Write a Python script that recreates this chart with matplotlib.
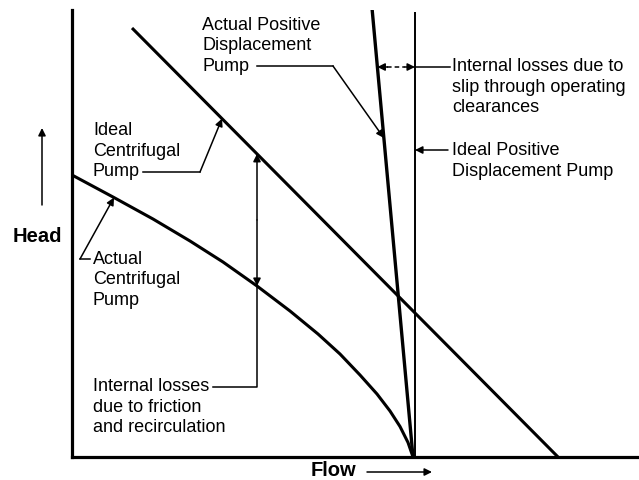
import numpy as np
import matplotlib
matplotlib.use("Agg")
import matplotlib.pyplot as plt

plt.rcParams['font.family'] = ['Liberation Sans', 'DejaVu Sans']

# ---- data (flow, head) in schematic units ----
ideal_cf_flow = [60, 486]
ideal_cf_head = [429, 0]

actual_cf_flow = [0, 41, 81, 118, 151, 185, 218, 246, 268, 288, 305, 318, 328, 336, 341]
actual_cf_head = [282, 260, 238, 216, 195, 171, 146, 123, 103, 82, 63, 46, 30.5, 14.5, 0]

actual_pd_flow = [300, 341]
actual_pd_head = [449, 0]

ideal_pd_flow = [343, 343]
ideal_pd_head = [445, 0]

labels = {
    'apd': "Actual Positive\nDisplacement\nPump",
    'slip': "Internal losses due to\nslip through operating\nclearances",
    'ipd': "Ideal Positive\nDisplacement Pump",
    'icf': "Ideal\nCentrifugal\nPump",
    'acf': "Actual\nCentrifugal\nPump",
    'fric': "Internal losses\ndue to friction\nand recirculation",
}

W, H = 639, 480
fig = plt.figure(figsize=(W / 100, H / 100), dpi=100)
ox, oy = 72, 457
ax = fig.add_axes([ox / W, (H - oy) / H, (W - ox) / W, (oy - 10) / H])
ax.set_xlim(0, W - ox)
ax.set_ylim(0, oy - 10)
for s in ['top', 'right']:
    ax.spines[s].set_visible(False)
for s in ['left', 'bottom']:
    ax.spines[s].set_linewidth(2.3)
ax.set_xticks([])
ax.set_yticks([])

ax.plot(ideal_cf_flow, ideal_cf_head, color='black', lw=2.2, solid_capstyle='butt')
ax.plot(actual_cf_flow, actual_cf_head, color='black', lw=2.2, solid_joinstyle='round')
ax.plot(actual_pd_flow, actual_pd_head, color='black', lw=2.4, solid_capstyle='butt')
ax.plot(ideal_pd_flow, ideal_pd_head, color='black', lw=1.4, solid_capstyle='butt')


def P(x, y):
    """convert reference pixel position to data coords"""
    return (x - ox, oy - y)


def line_x_at(fl, hd, h):
    return np.interp(h, hd[::-1], fl[::-1])


def line_h_at(fl, hd, f):
    return np.interp(f, fl, hd)


fs = 13
ls_ = 1.27
lkw = dict(color='black', lw=1.1, clip_on=False)
akw = dict(arrowstyle='-|>', mutation_scale=11, lw=1.1, color='black',
           shrinkA=0, shrinkB=0)


def arrow(start, end, style='-|>', ls='-'):
    kw = dict(akw)
    kw['arrowstyle'] = style
    kw['linestyle'] = ls
    ax.annotate('', xy=end, xytext=start, xycoords='data',
                textcoords='data', arrowprops=kw, annotation_clip=False)


# Actual positive displacement pump label
ax.text(*P(202, 46), labels['apd'], fontsize=fs, va='center', ha='left', linespacing=ls_)
h_apd = oy - 138
tip = (line_x_at(actual_pd_flow, actual_pd_head, h_apd), h_apd)
ax.plot([257 - ox, 333 - ox], [oy - 66, oy - 66], **lkw)
arrow(P(333, 66), tip)

# slip losses
h_slip = oy - 67
x_apd = line_x_at(actual_pd_flow, actual_pd_head, h_slip)
x_ipd = ideal_pd_flow[0]
arrow((x_apd + 10, h_slip), (x_apd, h_slip))
arrow((x_ipd - 10, h_slip), (x_ipd, h_slip))
ax.plot([x_apd + 10, x_ipd - 10], [h_slip, h_slip], color='black', lw=1.1,
        ls=(0, (3, 2)), clip_on=False)
ax.plot([x_ipd, 450 - ox], [h_slip, h_slip], **lkw)
ax.text(*P(452, 87), labels['slip'], fontsize=fs, va='center', ha='left', linespacing=ls_)

# ideal positive displacement pump
arrow(P(448, 150), (x_ipd, oy - 150))
ax.text(*P(452, 161), labels['ipd'], fontsize=fs, va='center', ha='left', linespacing=ls_)

# ideal centrifugal pump
f_icf = 222 - ox
ax.text(*P(93, 151), labels['icf'], fontsize=fs, va='center', ha='left', linespacing=ls_)
ax.plot([143 - ox, 200 - ox], [oy - 172, oy - 172], **lkw)
arrow(P(200, 172), (f_icf, line_h_at(ideal_cf_flow, ideal_cf_head, f_icf)))

# actual centrifugal pump
f_acf = 114 - ox
ax.text(*P(93, 280), labels['acf'], fontsize=fs, va='center', ha='left', linespacing=ls_)
ax.plot([90 - ox, 80 - ox], [oy - 259, oy - 259], **lkw)
arrow(P(80, 259), (f_acf, line_h_at(actual_cf_flow, actual_cf_head, f_acf)))

# friction losses
f_fr = 257 - ox
h_top = line_h_at(ideal_cf_flow, ideal_cf_head, f_fr)
h_bot = line_h_at(actual_cf_flow, actual_cf_head, f_fr)
ax.text(*P(93, 407), labels['fric'], fontsize=fs, va='center', ha='left', linespacing=ls_)
ax.plot([213 - ox, f_fr, f_fr], [oy - 387, oy - 387, h_bot], **lkw)
arrow((f_fr, (h_top + h_bot) / 2), (f_fr, h_top))
arrow((f_fr, (h_top + h_bot) / 2), (f_fr, h_bot))

# axis labels
ax.text(*P(37, 237), "Head", fontsize=14.5, fontweight='bold', ha='center', va='center')
arrow(P(42, 205), P(42, 128))
ax.text(*P(333, 471), "Flow", fontsize=14.5, fontweight='bold', ha='center', va='center')
arrow(P(367, 472), P(432, 472))

fig.savefig('out.png', dpi=100)
